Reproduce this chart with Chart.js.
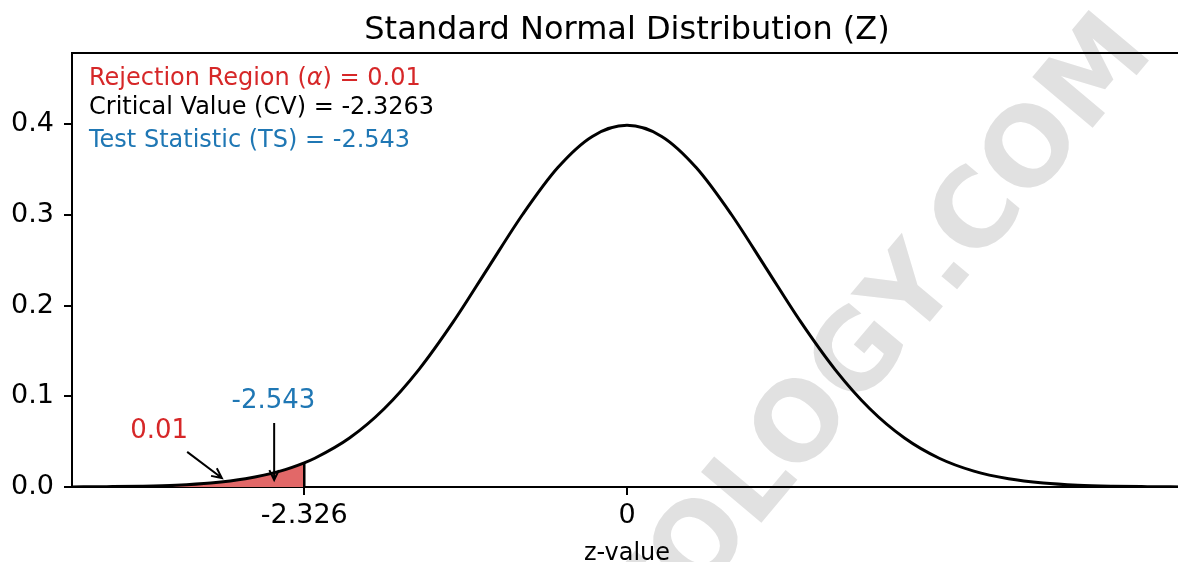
<!DOCTYPE html>
<html lang="en">
<head>
    <meta charset="UTF-8">
    <title>Standard Normal Distribution (Z)</title>
    <script src="https://cdn.jsdelivr.net/npm/chart.js"></script>
    <style>
        html, body { margin: 0; padding: 0; background: #fff; overflow: hidden; }
        .wrap { width: 1184px; height: 562px; position: relative; }
    </style>
</head>
<body>
    <div class="wrap"><canvas id="zChart"></canvas></div>
    <script>
// curve (density of Z)
const zValues = [-4, -3.75, -3.5, -3.25, -3, -2.75, -2.5, -2.326, -2.25, -2, -1.75, -1.5, -1.25, -1, -0.75, -0.5, -0.25,
    0, 0.25, 0.5, 0.75, 1, 1.25, 1.5, 1.75, 2, 2.25, 2.5, 2.75, 3, 3.25, 3.5, 3.75, 4];
const density = [0.0001, 0.0004, 0.0009, 0.0020, 0.0044, 0.0091, 0.0175, 0.0267, 0.0317, 0.0540, 0.0863, 0.1295, 0.1826, 0.2420, 0.3011, 0.3521, 0.3867,
    0.3989, 0.3867, 0.3521, 0.3011, 0.2420, 0.1826, 0.1295, 0.0863, 0.0540, 0.0317, 0.0175, 0.0091, 0.0044, 0.0020, 0.0009, 0.0004, 0.0001];

// rejection region (left tail up to the critical value)
const tailZ = [-4, -3.75, -3.5, -3.25, -3, -2.75, -2.5, -2.326];
const tailDensity = [0.0001, 0.0004, 0.0009, 0.0020, 0.0044, 0.0091, 0.0175, 0.0267];

const alpha = 0.01;
const criticalValue = -2.3263;
const criticalDensity = 0.0267;
const testStatistic = -2.543;

const xTickValues = [-2.326, 0];
const xTickLabels = ['-2.326', '0'];
const yTickValues = [0, 0.1, 0.2, 0.3, 0.4];

const FONT = "'DejaVu Sans', sans-serif";
const RED = '#d62728', BLUE = '#1f77b4';

function toPoints(xs, ys) {
    return xs.map((x, i) => ({ x: x, y: ys[i] }));
}

function arrow(ctx, x1, y1, x2, y2) {
    const a = Math.atan2(y2 - y1, x2 - x1);
    const len = 11, spread = 0.45;
    ctx.beginPath();
    ctx.moveTo(x1, y1);
    ctx.lineTo(x2, y2);
    ctx.moveTo(x2 - len * Math.cos(a - spread), y2 - len * Math.sin(a - spread));
    ctx.lineTo(x2, y2);
    ctx.lineTo(x2 - len * Math.cos(a + spread), y2 - len * Math.sin(a + spread));
    ctx.stroke();
}

const decorations = {
    id: 'decorations',
    beforeDraw(chart) {
        const ctx = chart.ctx;
        ctx.save();
        ctx.fillStyle = '#fff';
        ctx.fillRect(0, 0, chart.width, chart.height);
        // watermark
        ctx.font = "bold 108px " + FONT;
        ctx.fillStyle = '#e1e1e1';
        ctx.translate(967, 262);
        ctx.rotate(-50 * Math.PI / 180);
        const pre = ctx.measureText('STATOLOGY').width;
        const dot = ctx.measureText('.').width;
        ctx.textBaseline = 'alphabetic';
        ctx.fillText('STATOLOGY.COM', -(pre + dot / 2), 10);
        ctx.restore();
    },
    afterDraw(chart) {
        const ctx = chart.ctx;
        const area = chart.chartArea;
        const xs = chart.scales.x, ys = chart.scales.y;
        ctx.save();
        // top and right spines
        ctx.strokeStyle = '#000';
        ctx.lineWidth = 2;
        ctx.beginPath();
        ctx.moveTo(area.left - 1, area.top);
        ctx.lineTo(area.right, area.top);
        ctx.lineTo(area.right, area.bottom);
        ctx.stroke();

        // title and x label
        ctx.fillStyle = '#000';
        ctx.textAlign = 'center';
        ctx.textBaseline = 'alphabetic';
        ctx.font = "32px " + FONT;
        ctx.fillText('Standard Normal Distribution (Z)', (area.left + area.right) / 2, 39);
        ctx.font = "24px " + FONT;
        ctx.fillText('z-value', xs.getPixelForValue(0), 560);

        // info text
        ctx.textAlign = 'left';
        ctx.font = "24px " + FONT;
        let x = 89;
        ctx.fillStyle = RED;
        const s1 = 'Rejection Region (';
        ctx.fillText(s1, x, 85);
        x += ctx.measureText(s1).width;
        ctx.font = "italic 24px " + FONT;
        ctx.fillText('\u03b1', x, 85);
        x += ctx.measureText('\u03b1').width;
        ctx.font = "24px " + FONT;
        ctx.fillText(') = ' + alpha, x, 85);
        ctx.fillStyle = '#000';
        ctx.fillText('Critical Value (CV) = ' + criticalValue, 89, 114);
        ctx.fillStyle = BLUE;
        ctx.fillText('Test Statistic (TS) = ' + testStatistic, 89, 147);

        // annotations with arrows
        ctx.font = "26px " + FONT;
        ctx.fillStyle = RED;
        ctx.fillText(String(alpha), xs.getPixelForValue(-3.58), ys.getPixelForValue(0.054));
        ctx.fillStyle = BLUE;
        ctx.fillText(String(testStatistic), xs.getPixelForValue(-2.85), ys.getPixelForValue(0.0873));
        ctx.strokeStyle = '#000';
        ctx.lineWidth = 2;
        arrow(ctx, xs.getPixelForValue(-3.17), ys.getPixelForValue(0.0387),
            xs.getPixelForValue(-2.92), ys.getPixelForValue(0.0099));
        arrow(ctx, xs.getPixelForValue(testStatistic), ys.getPixelForValue(0.0707),
            xs.getPixelForValue(testStatistic), ys.getPixelForValue(0.0077));
        ctx.restore();
    }
};

new Chart(document.getElementById('zChart'), {
    type: 'line',
    data: {
        datasets: [
            {
                data: toPoints(zValues, density),
                borderColor: '#000',
                borderWidth: 3,
                pointRadius: 0,
                cubicInterpolationMode: 'monotone',
                fill: false,
                order: 1
            },
            {
                data: toPoints([-2.326, -2.326], [0, criticalDensity]),
                borderColor: '#000',
                borderWidth: 2.5,
                pointRadius: 0,
                tension: 0,
                fill: false,
                order: 2
            },
            {
                data: toPoints(tailZ, tailDensity),
                borderWidth: 0,
                borderColor: 'rgba(0,0,0,0)',
                backgroundColor: '#e26868',
                pointRadius: 0,
                cubicInterpolationMode: 'monotone',
                fill: 'origin',
                order: 3
            }
        ]
    },
    options: {
        responsive: true,
        maintainAspectRatio: false,
        animation: false,
        events: [],
        layout: { padding: { top: 53, right: 2, left: 0, bottom: 0 } },
        plugins: { legend: { display: false }, tooltip: { enabled: false }, title: { display: false } },
        scales: {
            x: {
                type: 'linear',
                min: -4,
                max: 4,
                afterFit: s => { s.height = 75; },
                afterBuildTicks: s => { s.ticks = xTickValues.map(v => ({ value: v })); },
                ticks: {
                    autoSkip: false,
                    maxRotation: 0,
                    padding: 5,
                    color: '#000',
                    font: { family: FONT, size: 27 },
                    callback: (v) => xTickLabels[xTickValues.indexOf(v)]
                },
                grid: { drawOnChartArea: false, drawTicks: true, tickLength: 8, color: '#000', lineWidth: 2 },
                border: { display: true, color: '#000', width: 2 }
            },
            y: {
                min: 0,
                max: 0.4787,
                afterFit: s => { s.width = 72; },
                afterBuildTicks: s => { s.ticks = yTickValues.map(v => ({ value: v })); },
                ticks: {
                    padding: 10,
                    color: '#000',
                    font: { family: FONT, size: 27 },
                    callback: (v) => v.toFixed(1)
                },
                grid: { drawOnChartArea: false, drawTicks: true, tickLength: 8, color: '#000', lineWidth: 2 },
                border: { display: true, color: '#000', width: 2 }
            }
        }
    },
    plugins: [decorations]
});
    </script>
</body>
</html>
